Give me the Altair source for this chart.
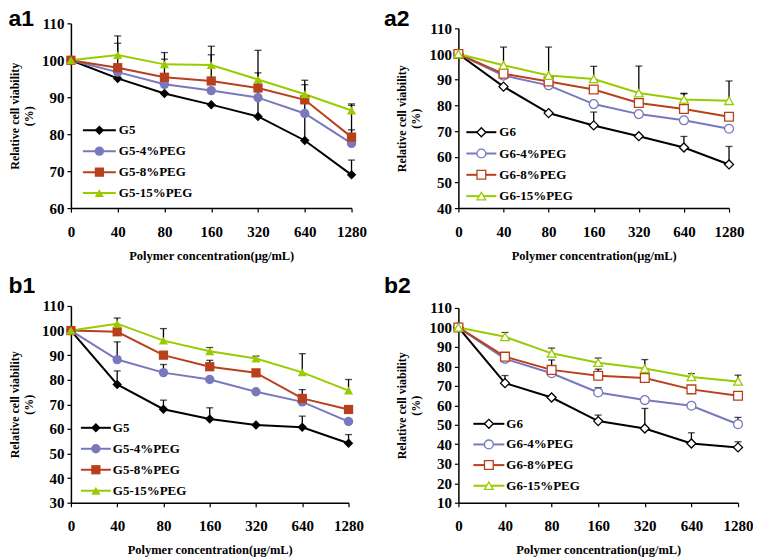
import altair as alt
import pandas as pd

conc = ["0", "40", "80", "160", "320", "640", "1280"]

# ---- panel a1 ----
a1_names = ["G5", "G5-4%PEG", "G5-8%PEG", "G5-15%PEG"]
a1_G5 = [100, 95.1, 91.0, 88.0, 84.8, 78.3, 69.0]
a1_P4 = [100, 96.8, 93.5, 91.8, 89.9, 85.6, 77.5]
a1_P8 = [100, 98.0, 95.4, 94.4, 92.5, 89.3, 79.2]
a1_P15 = [100, 101.4, 98.9, 98.7, 94.8, 90.8, 86.4]
a1_G5_err = [0, 0, 0, 0, 9.2, 15.1, 4.0]
a1_P4_err = [0, 0, 0, 0, 0, 0, 3.7]
a1_P8_err = [0, 6.6, 4.9, 7.1, 4.1, 0, 8.6]
a1_P15_err = [0, 5.2, 3.2, 5.1, 7.9, 3.8, 1.8]

# ---- panel a2 ----
a2_names = ["G6", "G6-4%PEG", "G6-8%PEG", "G6-15%PEG"]
a2_G6 = [100, 87.3, 77.0, 72.2, 68.0, 63.6, 57.0]
a2_P4 = [100, 91.6, 87.8, 80.5, 76.6, 74.2, 70.9]
a2_P8 = [100, 92.3, 89.3, 86.2, 80.9, 78.6, 75.6]
a2_P15 = [100, 95.6, 91.6, 90.3, 84.8, 82.3, 81.8]
a2_G6_err = [0, 0, 0, 5.2, 0, 4.3, 7.0]
a2_P4_err = [0, 0, 0, 0, 0, 0, 0]
a2_P8_err = [0, 0, 0, 0, 0, 5.9, 0]
a2_P15_err = [0, 7.1, 11.1, 4.9, 10.5, 2.4, 7.7]

# ---- panel b1 ----
b1_names = ["G5", "G5-4%PEG", "G5-8%PEG", "G5-15%PEG"]
b1_G5 = [100, 78.1, 68.0, 64.0, 61.6, 60.7, 54.2]
b1_P4 = [100, 88.2, 82.9, 80.1, 75.1, 71.0, 63.0]
b1_P8 = [100, 99.5, 90.0, 85.3, 82.8, 72.4, 67.9]
b1_P15 = [100, 102.8, 95.9, 91.6, 88.6, 83.0, 75.6]
b1_G5_err = [0, 5.5, 3.7, 4.6, 0, 4.5, 3.5]
b1_P4_err = [0, 7.2, 3.3, 0, 0, 0, 0]
b1_P8_err = [0, 0, 0, 2.6, 0, 3.6, 0]
b1_P15_err = [0, 2.3, 4.9, 1.5, 1.0, 7.6, 4.5]

# ---- panel b2 ----
b2_names = ["G6", "G6-4%PEG", "G6-8%PEG", "G6-15%PEG"]
b2_G6 = [100, 71.4, 64.0, 51.9, 48.1, 40.4, 38.4]
b2_P4 = [100, 83.9, 76.5, 66.6, 62.7, 59.8, 50.3]
b2_P8 = [100, 85.0, 78.2, 75.2, 74.0, 68.2, 64.9]
b2_P15 = [100, 95.2, 86.7, 81.9, 78.9, 74.6, 72.3]
b2_G6_err = [0, 3.9, 0, 3.1, 10.3, 5.5, 2.9]
b2_P4_err = [0, 0, 0, 2.5, 0, 0, 3.5]
b2_P8_err = [0, 0, 5.1, 3.4, 4.4, 1.3, 0]
b2_P15_err = [0, 2.2, 2.7, 2.4, 4.6, 1.7, 3.2]

COLORS = ["#000000", "#7878BE", "#B8401C", "#99CC00"]
SHAPES = ["diamond", "circle", "square", "triangle-up"]
SIZES = [90, 75, 70, 110]
SERIF = "Liberation Serif"


def build_df(names, series, errs):
    rows = []
    for name, vals, err in zip(names, series, errs):
        for i, (c, v, e) in enumerate(zip(conc, vals, err)):
            rows.append({"series": name, "conc": c, "idx": i, "value": v,
                         "err": e, "upper": v + e})
    return pd.DataFrame(rows)


def panel(label, names, series, errs, ylo, w, h, top_pad, filled,
          leg_x0, leg_x1, leg_tx, leg_y0, leg_y1, title_offset, title_dx,
          title_dy):
    df = build_df(names, series, errs)
    dfe = df[df["err"] > 0]
    leg = pd.DataFrame({"series": names})

    xenc = alt.X("conc:O", sort=conc,
                 scale=alt.Scale(type="point", padding=0),
                 axis=alt.Axis(title="Polymer concentration(μg/mL)", labelAngle=0,
                               labelPadding=12, titlePadding=10))
    yscale = alt.Scale(domain=[ylo, 110], range=[h, top_pad], nice=False, zero=False)
    yaxis = alt.Axis(values=list(range(ylo, 111, 10)),
                     labelOverlap=False, labelBound=False,
                     title=["Relative cell viability", "(%)"],
                     titlePadding=6)
    yenc = alt.Y("value:Q", scale=yscale, axis=yaxis)
    cscale = alt.Scale(domain=names, range=COLORS)
    sscale = alt.Scale(domain=names, range=SHAPES)
    zscale = alt.Scale(domain=names, range=SIZES)

    rules = alt.Chart(dfe).mark_rule(color="black", strokeWidth=1.3).encode(
        x=xenc, y=yenc, y2="upper:Q")
    caps = alt.Chart(dfe).mark_tick(color="black", thickness=1.3, size=7,
                                    orient="horizontal").encode(
        x=xenc, y=alt.Y("upper:Q", scale=yscale, axis=yaxis))
    lines = alt.Chart(df).mark_line(strokeWidth=2).encode(
        x=xenc, y=yenc, order="idx:Q",
        color=alt.Color("series:N", scale=cscale, legend=None))

    if filled:
        pmark = dict(filled=True, opacity=1)
        penc = dict(color=alt.Color("series:N", scale=cscale, legend=None))
    else:
        pmark = dict(filled=False, fill="white", fillOpacity=1, opacity=1,
                     strokeWidth=1.3)
        penc = dict(stroke=alt.Stroke("series:N", scale=cscale, legend=None),
                    fill=alt.value("white"))

    points = alt.Chart(df).mark_point(**pmark).encode(
        x=xenc, y=yenc,
        shape=alt.Shape("series:N", scale=sscale, legend=None),
        size=alt.Size("series:N", scale=zscale, legend=None), **penc)

    main = alt.layer(rules, caps, lines, points)

    ly = alt.Y("series:N", sort=names, axis=None,
               scale=alt.Scale(type="point", domain=names,
                               range=[leg_y0, leg_y1], padding=0))
    leg_rule = alt.Chart(leg).mark_rule(strokeWidth=2).encode(
        x=alt.value(leg_x0), x2=alt.value(leg_x1), y=ly,
        color=alt.Color("series:N", scale=cscale, legend=None))
    leg_pt = alt.Chart(leg).mark_point(**pmark).encode(
        x=alt.value((leg_x0 + leg_x1) / 2), y=ly,
        shape=alt.Shape("series:N", scale=sscale, legend=None),
        size=alt.Size("series:N", scale=zscale, legend=None), **penc)
    leg_txt = alt.Chart(leg).mark_text(align="left", baseline="middle",
                                       font=SERIF, fontWeight="bold",
                                       fontSize=13, color="black").encode(
        x=alt.value(leg_tx), y=ly, text="series:N")
    legend = alt.layer(leg_rule, leg_pt, leg_txt)

    return alt.layer(main, legend).resolve_scale(y="independent").properties(
        width=w, height=h,
        title=alt.TitleParams(label, anchor="start", font="Liberation Sans",
                              fontSize=23, fontWeight="bold", color="black",
                              offset=title_offset, dx=title_dx, dy=title_dy))


a1 = panel("a1", a1_names, [a1_G5, a1_P4, a1_P8, a1_P15],
           [a1_G5_err, a1_P4_err, a1_P8_err, a1_P15_err],
           60, 281, 185, 0, True, 12, 45, 48, 107, 170, -20, 0, -5)
a2 = panel("a2", a2_names, [a2_G6, a2_P4, a2_P8, a2_P15],
           [a2_G6_err, a2_P4_err, a2_P8_err, a2_P15_err],
           40, 271, 185, 5, False, 8, 38, 41, 109, 173, -15, -12, -5)
b1 = panel("b1", b1_names, [b1_G5, b1_P4, b1_P8, b1_P15],
           [b1_G5_err, b1_P4_err, b1_P8_err, b1_P15_err],
           30, 278, 197, 0, True, 10, 40, 42, 122, 185, -8, 0, -9)
b2 = panel("b2", b2_names, [b2_G6, b2_P4, b2_P8, b2_P15],
           [b2_G6_err, b2_P4_err, b2_P8_err, b2_P15_err],
           10, 280, 197, 2, False, 15, 46, 48, 118, 180, -6, -12, -9)

chart = alt.vconcat(
    alt.hconcat(a1, a2, spacing=17),
    alt.hconcat(b1, b2, spacing=20),
    spacing=13,
).properties(padding=0).configure_view(stroke=None).configure_axis(
    labelFont=SERIF, labelFontWeight="bold", labelFontSize=15, labelColor="black",
    titleFont=SERIF, titleFontWeight="bold", titleFontSize=11, titleColor="black",
    domainColor="black", domainWidth=1.5, tickColor="black", tickWidth=1.2,
    tickSize=4, grid=False,
).configure_axisY(titleFontSize=12, labelPadding=3).configure_axisX(
    titleFontSize=12.5)

chart.save("out.html", embed_options={"renderer": "svg", "actions": False})
